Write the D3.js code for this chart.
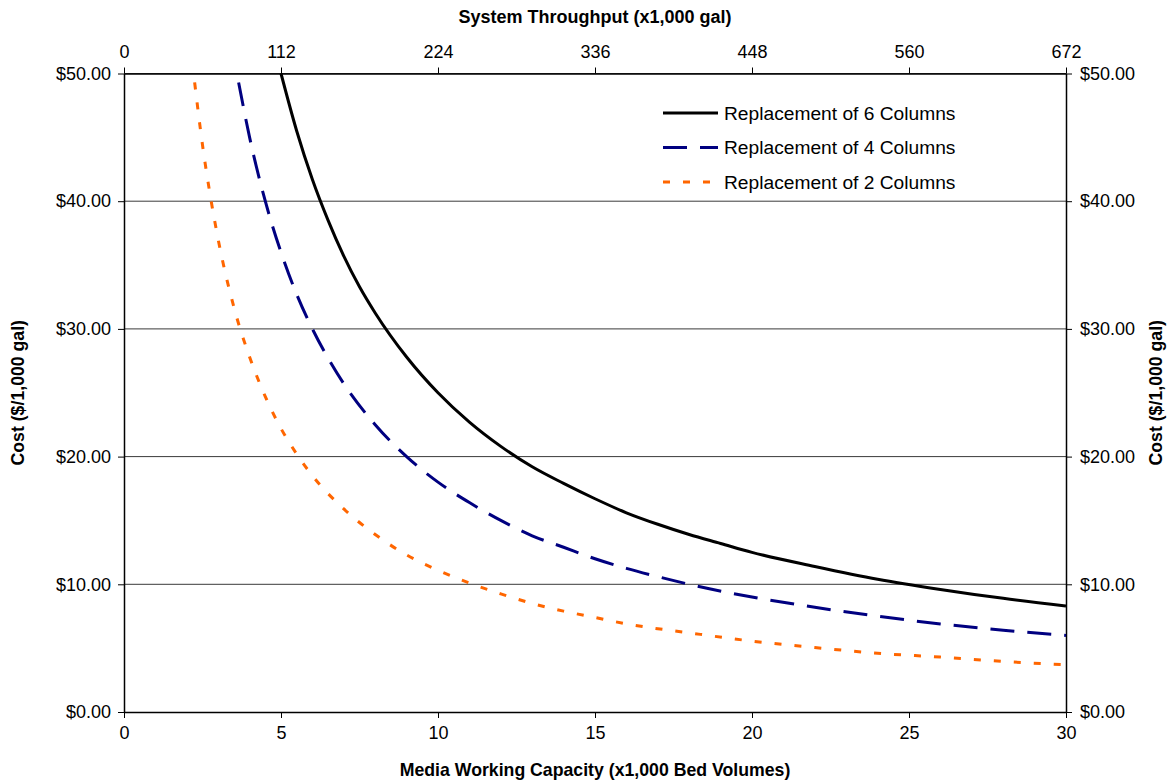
<!DOCTYPE html>
<html>
<head>
<meta charset="utf-8">
<script src="https://cdn.jsdelivr.net/npm/d3@7"></script>
<style>
  html, body { margin: 0; padding: 0; background: #fff; }
  svg { display: block; font-family: "Liberation Sans", Arial, sans-serif; }
</style>
</head>
<body>
<svg id="chart" width="1167" height="781"></svg>
<script>
// ---- Data ----
const yTicks = [0, 10, 20, 30, 40, 50];
const xTicks = [0, 5, 10, 15, 20, 25, 30];
const topTickLabels = ["0", "112", "224", "336", "448", "560", "672"];

const seriesNames = ["Replacement of 6 Columns", "Replacement of 4 Columns", "Replacement of 2 Columns"];

const cap6 = [5, 5.5, 6, 6.5, 7, 7.5, 8, 9, 10, 11, 12, 13, 14, 15, 16, 17, 18, 19, 20, 22, 24, 26, 28, 30];
const cost6 = [50, 45.5, 41.7, 38.5, 35.7, 33.3, 31.25, 27.8, 25, 22.7, 20.8, 19.2, 17.9, 16.7, 15.6, 14.7, 13.9, 13.2, 12.5, 11.4, 10.4, 9.6, 8.9, 8.3];

const cap4 = [3.65, 4, 4.5, 5, 5.5, 6, 6.5, 7, 8, 9, 10, 11, 12, 13, 14, 15, 16, 17, 18, 20, 22, 24, 26, 28, 30];
const cost4 = [49.3, 45, 40, 36, 32.7, 30, 27.7, 25.7, 22.5, 20, 18, 16.4, 15, 13.8, 12.9, 12, 11.25, 10.6, 10, 9, 8.2, 7.5, 6.9, 6.4, 6.0];

const cap2 = [2.25, 2.5, 2.75, 3, 3.5, 4, 4.5, 5, 5.5, 6, 7, 8, 9, 10, 11, 12, 13, 14, 15, 16, 18, 20, 22, 24, 26, 28, 30];
const cost2 = [49.3, 44.4, 40.4, 37, 31.7, 27.8, 24.7, 22.2, 20.2, 18.5, 15.9, 13.9, 12.3, 11.1, 10.1, 9.25, 8.5, 7.9, 7.4, 6.9, 6.2, 5.55, 5.05, 4.6, 4.3, 3.96, 3.7];

// ---- Layout ----
const svg = d3.select("#chart");
const L = 124, R = 1066, T = 73.5, B = 712;

const x = d3.scaleLinear().domain([0, 30]).range([L, R]);
const y = d3.scaleLinear().domain([0, 50]).range([B, T]);

const series = [
  { name: seriesNames[0], xs: cap6, ys: cost6, color: "#000000", dash: null },
  { name: seriesNames[1], xs: cap4, ys: cost4, color: "#000080", dash: "24,13" },
  { name: seriesNames[2], xs: cap2, ys: cost2, color: "#FF6600", dash: "7,13" }
];

// gridlines
svg.append("g").selectAll("line").data(yTicks.filter(d => d > 0)).join("line")
  .attr("x1", L).attr("x2", R)
  .attr("y1", d => y(d)).attr("y2", d => y(d))
  .attr("stroke", "#3a3a3a").attr("stroke-width", 1);

const tickFont = "18px";

// bottom axis
const gB = svg.append("g").attr("transform", `translate(0,${B})`)
  .call(d3.axisBottom(x).tickValues(xTicks).tickFormat(d3.format("d")).tickSizeInner(6).tickSizeOuter(0).tickPadding(8));
// top axis
const gT = svg.append("g").attr("transform", `translate(0,${T})`)
  .call(d3.axisTop(x).tickValues(xTicks).tickFormat((d, i) => topTickLabels[i]).tickSizeInner(6).tickSizeOuter(0).tickPadding(10));
// left axis
const fmt = d => "$" + d3.format(".2f")(d);
const gL = svg.append("g").attr("transform", `translate(${L},0)`)
  .call(d3.axisLeft(y).tickValues(yTicks).tickFormat(fmt).tickSizeInner(6).tickSizeOuter(0).tickPadding(7));
// right axis
const gR = svg.append("g").attr("transform", `translate(${R},0)`)
  .call(d3.axisRight(y).tickValues(yTicks).tickFormat(fmt).tickSizeInner(6).tickSizeOuter(0).tickPadding(8));

[gB, gT, gL, gR].forEach(g => {
  g.select(".domain").attr("stroke", "#000").attr("stroke-width", 1.5);
  g.selectAll(".tick line").attr("stroke", "#000").attr("stroke-width", 1);
  g.selectAll(".tick text").attr("fill", "#000").style("font-size", tickFont)
    .style("font-family", '"Liberation Sans", Arial, sans-serif');
});

// curves
const line = d3.line().x(d => x(d[0])).y(d => y(d[1])).curve(d3.curveMonotoneX);
series.forEach(s => {
  const pts = s.xs.map((v, i) => [v, s.ys[i]]);
  svg.append("path").datum(pts)
    .attr("d", line)
    .attr("fill", "none")
    .attr("stroke", s.color)
    .attr("stroke-width", 3)
    .attr("stroke-dasharray", s.dash);
});

// legend
const leg = svg.append("g");
series.forEach((s, i) => {
  const cy = 113 + i * 34.5;
  leg.append("line").attr("x1", 663).attr("x2", 718).attr("y1", cy).attr("y2", cy)
    .attr("stroke", s.color).attr("stroke-width", 3).attr("stroke-dasharray", s.dash);
  leg.append("text").attr("x", 724).attr("y", cy).attr("dy", "0.35em")
    .style("font-size", "19.2px").attr("fill", "#000").text(s.name);
});

// axis titles
svg.append("text").attr("x", (L + R) / 2).attr("y", 770).attr("dy", "0.35em")
  .attr("text-anchor", "middle").style("font-size", "17.7px").style("font-weight", "bold")
  .text("Media Working Capacity (x1,000 Bed Volumes)");
svg.append("text").attr("x", (L + R) / 2).attr("y", 17).attr("dy", "0.35em")
  .attr("text-anchor", "middle").style("font-size", "18px").style("font-weight", "bold")
  .text("System Throughput (x1,000 gal)");
svg.append("text").attr("transform", `translate(18,${(T + B) / 2}) rotate(-90)`).attr("dy", "0.35em")
  .attr("text-anchor", "middle").style("font-size", "17.7px").style("font-weight", "bold")
  .text("Cost ($/1,000 gal)");
svg.append("text").attr("transform", `translate(1156,${(T + B) / 2}) rotate(-90)`).attr("dy", "0.35em")
  .attr("text-anchor", "middle").style("font-size", "17.7px").style("font-weight", "bold")
  .text("Cost ($/1,000 gal)");
</script>
</body>
</html>
